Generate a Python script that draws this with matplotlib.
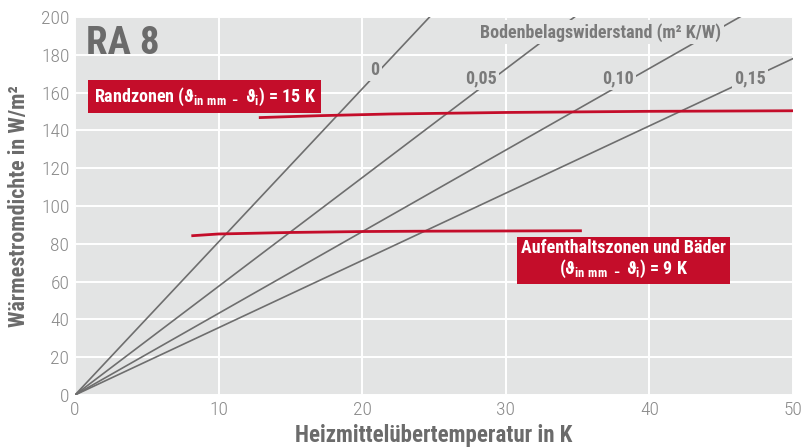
import matplotlib
matplotlib.use("Agg")
import matplotlib.pyplot as plt
import numpy as np

# Bodenbelagswiderstand curves (m² K/W) -> slope W/m² per K
resistances = ["0", "0,05", "0,10", "0,15"]
slopes = [8.1, 5.75, 4.32, 3.56]
label_pos = [(20.9, 172), (28.3, 167.5), (37.8, 167.5), (47.0, 167.5)]

# red limit curves
rand_x = [12.9, 17, 22, 30, 40, 50]
rand_y = [146.8, 147.8, 148.7, 149.5, 150.1, 150.4]
aufent_x = [8.2, 10, 15, 20, 25, 35.2]
aufent_y = [84.3, 85.2, 86.0, 86.5, 86.7, 86.9]

x_ticks = [0, 10, 20, 30, 40, 50]
y_ticks = list(range(0, 201, 20))

BG = "#e3e4e4"
GRAY = "#6e6e6e"
RED = "#c40d2a"
FONT = ["Roboto Condensed", "Archivo Narrow", "DejaVu Sans"]

plt.rcParams["font.family"] = FONT
plt.rcParams["mathtext.fontset"] = "custom"
plt.rcParams["mathtext.rm"] = "Archivo Narrow"

fig = plt.figure(figsize=(8.01, 4.48), dpi=100)
ax = fig.add_axes([0.0936, 0.1183, 0.8964, 0.8437])
ax.set_facecolor(BG)
for s in ax.spines.values():
    s.set_visible(False)

ax.set_xlim(0, 50)
ax.set_ylim(0, 200)
ax.set_xticks(x_ticks)
ax.set_yticks(y_ticks)
ax.tick_params(length=0, labelsize=14, labelcolor="#8a8a8a", pad=4)
for lbl in ax.get_xticklabels() + ax.get_yticklabels():
    lbl.set_fontweight("light")
ax.grid(True, color="white", linewidth=1.4)
ax.set_axisbelow(True)

xs = np.array([0, 50])
for name, k, (lx, ly) in zip(resistances, slopes, label_pos):
    ax.plot(xs, k * xs, color=GRAY, linewidth=1.2, zorder=2)
    ax.text(lx, ly, name, fontsize=13, fontweight="bold", color="#7a7a7a",
            ha="center", va="center", zorder=4,
            bbox=dict(facecolor=BG, edgecolor="none", pad=1.5))

ax.text(36.6, 192, "Bodenbelagswiderstand (m² K/W)", fontsize=13,
        fontweight="bold", color="#7a7a7a", ha="center", va="center", zorder=4,
        bbox=dict(facecolor=BG, edgecolor="none", pad=2))

ax.plot(rand_x, rand_y, color=RED, linewidth=2, zorder=3)
ax.plot(aufent_x, aufent_y, color=RED, linewidth=2, zorder=3)

ax.text(0.8, 186, "RA 8", fontsize=28, fontweight="bold", color="#6b6b6b",
        ha="left", va="center", zorder=4)

sub = r"$_{\mathregular{in\ mm\ -}}$"
subi = r"$_{\mathregular{i}}$"
ax.text(1.3, 158, "Randzonen (ϑ" + sub + " ϑ" + subi + ") = 15 K",
        fontsize=13, fontweight="bold", color="white", ha="left", va="center",
        zorder=5, bbox=dict(facecolor=RED, edgecolor="none", pad=4))
ax.text(38.2, 71.7, "Aufenthaltszonen und Bäder\n(ϑ" + sub + " ϑ" + subi + ") = 9 K",
        fontsize=13, fontweight="bold", color="white", ha="center", va="center",
        linespacing=1.05, zorder=5,
        bbox=dict(facecolor=RED, edgecolor="none", pad=3))

ax.set_xlabel("Heizmittelübertemperatur in K", fontsize=16.5, fontweight="bold",
              color="#6b6b6b", labelpad=4)
ax.set_ylabel("Wärmestromdichte in W/m²", fontsize=15.8, fontweight="bold",
              color="#6b6b6b", labelpad=8)

fig.savefig("out.png", dpi=100)
